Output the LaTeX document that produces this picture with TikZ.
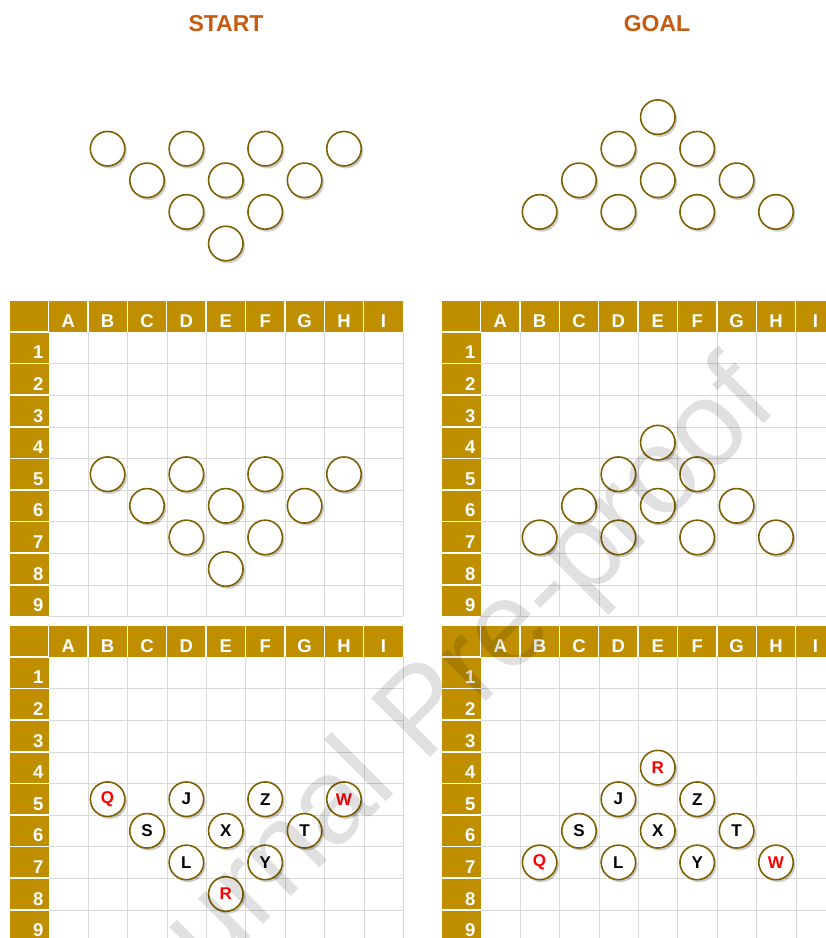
\documentclass[tikz,border=0pt]{standalone}
\usepackage{fontspec}
\setmainfont{Liberation Sans}
\usetikzlibrary{shadows}

\definecolor{headgold}{HTML}{BF8F00}
\definecolor{ringbrown}{HTML}{7F6000}
\definecolor{titleorange}{HTML}{C55A11}
\definecolor{gridgray}{HTML}{D9D9D9}
\definecolor{pegred}{HTML}{FF0000}

% one board: header column 38.5 wide, 9 columns of 39.4, header row 31 high, 9 rows of 31.6
\newcommand\drawboard[1]{%
  \fill[headgold] (0,0) rectangle (393,31);
  \fill[headgold] (0,0) rectangle (38.5,315.4);
  \foreach \i in {1,...,9}{
    \draw[gridgray] ({38.5+\i*39.4},31) -- ({38.5+\i*39.4},315.4);
    \draw[gridgray] (38.5,{31+\i*31.6}) -- (393,{31+\i*31.6});
  }
  \foreach \i in {0,...,8}{
    \draw[white, line width=1.5pt] ({38.5+\i*39.4},0) -- ({38.5+\i*39.4},31);
    \draw[white, line width=1.5pt] (0,{31+\i*31.6}) -- (38.5,{31+\i*31.6});
  }
  \foreach \c [count=\i] in {A,B,C,D,E,F,G,H,I}
    \node[headtxt, anchor=base] (#1-\c) at ({38.5+(\i-0.5)*39.4},26) {\c};
  \foreach \i in {1,...,9}
    \node[headtxt, anchor=base east] (#1-\i) at (33.5,{31+\i*31.6-4.7}) {\i};
}

% peg ring in column #3, row #4 of a board
\newcommand\pegat[5][]{\node[ring,#1] (#2) at ({38.5+(#3-0.5)*39.4},{31+(#4-0.5)*31.6}) {#5};}

\begin{document}
\begin{tikzpicture}[x=1pt, y=-1pt,
  ring/.style={circle, draw=ringbrown, line width=1.6pt, fill=white, minimum size=34.5pt, inner sep=0pt,
    font=\fontsize{17}{17}\selectfont\bfseries,
    drop shadow={shadow xshift=2pt, shadow yshift=-2.5pt, opacity=0.2, fill=black}},
  redtxt/.style={text=pegred},
  headtxt/.style={text=white, inner sep=0pt, font=\fontsize{18.5}{18.5}\selectfont\bfseries},
  titletxt/.style={text=titleorange, font=\fontsize{23}{23}\selectfont\bfseries},
  wmark/.style={text=black, text opacity=0.12, inner sep=0pt, font=\fontsize{121}{121}\selectfont}]

\useasboundingbox (0,0) rectangle (826,938);
\clip (0,0) rectangle (826,938);

\node[titletxt] (start) at (226,23.5) {START};
\node[titletxt] (goal) at (657,23.5) {GOAL};

% start and goal without grid
\begin{scope}[shift={(10,-24.5)}]
\pegat{ts-B5}{2}{5}{} \pegat{ts-D5}{4}{5}{} \pegat{ts-F5}{6}{5}{} \pegat{ts-H5}{8}{5}{}
\pegat{ts-C6}{3}{6}{} \pegat{ts-E6}{5}{6}{} \pegat{ts-G6}{7}{6}{}
\pegat{ts-D7}{4}{7}{} \pegat{ts-F7}{6}{7}{}
\pegat{ts-E8}{5}{8}{}
\end{scope}

\begin{scope}[shift={(442,-24.5)}]
\pegat{tg-E4}{5}{4}{}
\pegat{tg-D5}{4}{5}{} \pegat{tg-F5}{6}{5}{}
\pegat{tg-C6}{3}{6}{} \pegat{tg-E6}{5}{6}{} \pegat{tg-G6}{7}{6}{}
\pegat{tg-B7}{2}{7}{} \pegat{tg-D7}{4}{7}{} \pegat{tg-F7}{6}{7}{} \pegat{tg-H7}{8}{7}{}
\end{scope}

% boards with empty rings
\begin{scope}[shift={(10,301)}]
\drawboard{b1}
\pegat{s-B5}{2}{5}{} \pegat{s-D5}{4}{5}{} \pegat{s-F5}{6}{5}{} \pegat{s-H5}{8}{5}{}
\pegat{s-C6}{3}{6}{} \pegat{s-E6}{5}{6}{} \pegat{s-G6}{7}{6}{}
\pegat{s-D7}{4}{7}{} \pegat{s-F7}{6}{7}{}
\pegat{s-E8}{5}{8}{}
\end{scope}

\begin{scope}[shift={(442,301)}]
\drawboard{b2}
\pegat{g-E4}{5}{4}{}
\pegat{g-D5}{4}{5}{} \pegat{g-F5}{6}{5}{}
\pegat{g-C6}{3}{6}{} \pegat{g-E6}{5}{6}{} \pegat{g-G6}{7}{6}{}
\pegat{g-B7}{2}{7}{} \pegat{g-D7}{4}{7}{} \pegat{g-F7}{6}{7}{} \pegat{g-H7}{8}{7}{}
\end{scope}

% boards with lettered rings
\begin{scope}[shift={(10,626)}]
\drawboard{b3}
\pegat[redtxt]{sl-Q}{2}{5}{Q} \pegat{sl-J}{4}{5}{J} \pegat{sl-Z}{6}{5}{Z} \pegat[redtxt]{sl-W}{8}{5}{W}
\pegat{sl-S}{3}{6}{S} \pegat{sl-X}{5}{6}{X} \pegat{sl-T}{7}{6}{T}
\pegat{sl-L}{4}{7}{L} \pegat{sl-Y}{6}{7}{Y}
\pegat[redtxt]{sl-R}{5}{8}{R}
\end{scope}

\begin{scope}[shift={(442,626)}]
\drawboard{b4}
\pegat[redtxt]{gl-R}{5}{4}{R}
\pegat{gl-J}{4}{5}{J} \pegat{gl-Z}{6}{5}{Z}
\pegat{gl-S}{3}{6}{S} \pegat{gl-X}{5}{6}{X} \pegat{gl-T}{7}{6}{T}
\pegat[redtxt]{gl-Q}{2}{7}{Q} \pegat{gl-L}{4}{7}{L} \pegat{gl-Y}{6}{7}{Y} \pegat[redtxt]{gl-W}{8}{7}{W}
\end{scope}

\node[wmark, rotate=45, anchor=base west] (wm) at (119,1069) {Journal Pre-proof};

\end{tikzpicture}
\end{document}
